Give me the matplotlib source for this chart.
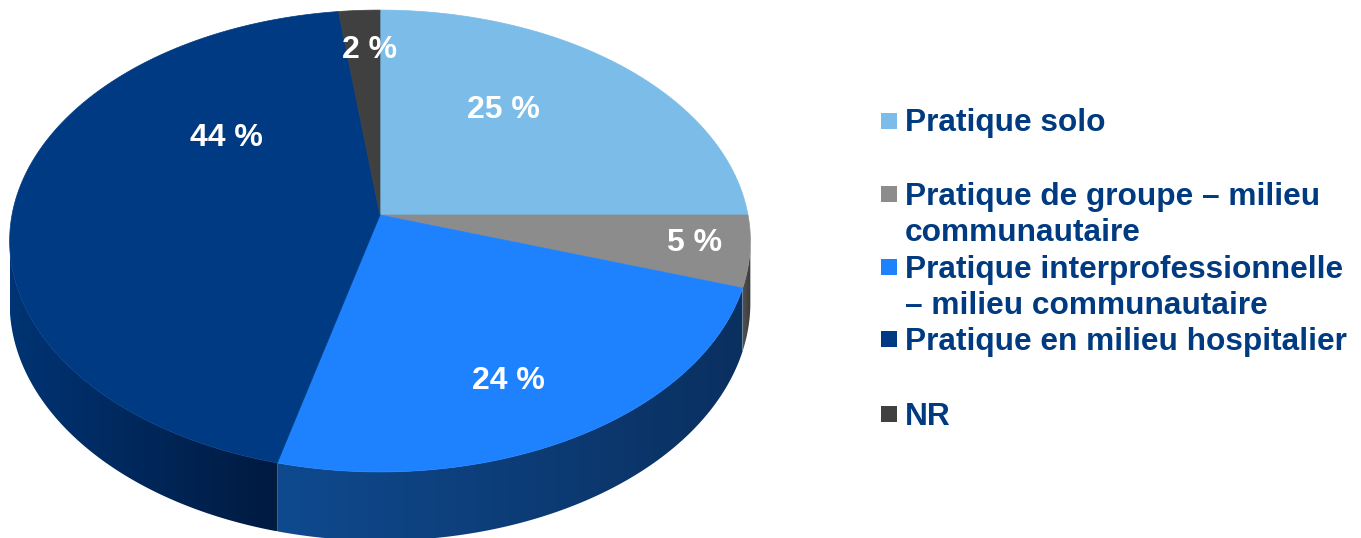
import numpy as np
import matplotlib
matplotlib.use("Agg")
import matplotlib.pyplot as plt
from matplotlib.patches import Polygon, Rectangle
from matplotlib.colors import to_rgb

# ---- data -------------------------------------------------------------
categories = [
    "Pratique solo",
    "Pratique de groupe – milieu\ncommunautaire",
    "Pratique interprofessionnelle\n– milieu communautaire",
    "Pratique en milieu hospitalier",
    "NR",
]
values = [25, 5, 24, 44, 2]
value_labels = ["25 %", "5 %", "24 %", "44 %", "2 %"]
top_colors = ["#7bbde8", "#8c8c8c", "#1e82ff", "#003a82", "#404040"]
# side colours (left / right end of the horizontal shading)
side_colors = [
    ("#4a7fa8", "#3a6a90"),
    ("#505050", "#3a3a3a"),
    ("#0f4a8f", "#0a3060"),
    ("#003474", "#001a40"),
    ("#2a2a2a", "#202020"),
]
label_pos = [(503, 110), (695, 243), (508, 381), (226, 138), (370, 50)]
legend_color = "#003a80"

# ---- projection of the pie disc --------------------------------------
CX, CY = 380.0, 215.0
A, B, K = 368.0, 228.0, 0.1126
DEPTH = 61.0


def project(theta, drop=0.0):
    u, v = np.cos(theta), np.sin(theta)
    d = 1.0 + K * v
    x = CX + A * u / d
    y = CY - B * v / d + drop / d
    return x, y


W, H = 1361, 538
fig = plt.figure(figsize=(W / 100, H / 100), dpi=100)
ax = fig.add_axes([0, 0, 1, 1])
ax.set_xlim(0, W)
ax.set_ylim(H, 0)
ax.axis("off")

fracs = np.array(values, dtype=float) / sum(values)
start = np.pi / 2
bounds = []
for f in fracs:
    end = start - 2 * np.pi * f
    bounds.append((start, end))
    start = end

# visible front range of the outer wall
lim = np.arcsin(K)
vis_a, vis_b = -lim, -np.pi + lim  # going clockwise (decreasing angle)


def norm_range(a, b):
    # express (a, b) with a > b, both in (-2pi, pi]
    return a, b


# ---- side walls -------------------------------------------------------
for (a, b), (cl, cr) in zip(bounds, side_colors):
    # bring the slice range into the window [-2pi+..]
    for shift in (0.0, -2 * np.pi, 2 * np.pi):
        a2, b2 = a + shift, b + shift
        hi = min(a2, vis_a)
        lo = max(b2, vis_b)
        if hi <= lo:
            continue
        t = np.linspace(hi, lo, 200)
        xt, yt = project(t)
        xb, yb = project(t, DEPTH)
        pts = np.column_stack([np.r_[xt, xb[::-1]], np.r_[yt, yb[::-1]]])
        poly = Polygon(pts, closed=True, facecolor="none", edgecolor="none")
        ax.add_patch(poly)
        x0, x1 = pts[:, 0].min(), pts[:, 0].max()
        y0, y1 = pts[:, 1].min(), pts[:, 1].max()
        c0, c1 = np.array(to_rgb(cl)), np.array(to_rgb(cr))
        s = np.linspace(0, 1, 256)[None, :, None]
        img = c0[None, None, :] * (1 - s) + c1[None, None, :] * s
        im = ax.imshow(img, extent=[x0, x1, y1, y0], aspect="auto",
                       interpolation="bilinear", zorder=1)
        im.set_clip_path(poly)

# ---- top faces --------------------------------------------------------
for (a, b), col in zip(bounds, top_colors):
    t = np.linspace(a, b, 300)
    xt, yt = project(t)
    pts = np.column_stack([np.r_[CX, xt], np.r_[CY, yt]])
    ax.add_patch(Polygon(pts, closed=True, facecolor=col, edgecolor=col,
                         linewidth=0.5, zorder=2))

# ---- value labels -----------------------------------------------------
font = "Liberation Sans"
for txt, (x, y) in zip(value_labels, label_pos):
    ax.text(x, y, txt, ha="center", va="center", color="white",
            fontsize=23, fontweight="bold", family=font, zorder=3)

# ---- legend -----------------------------------------------------------
legend_base = [131.5, 205, 278, 350, 425]
line_gap = 36
for name, col, base in zip(categories, top_colors, legend_base):
    ax.add_patch(Rectangle((881, base - 19), 16, 16, facecolor=col,
                           edgecolor="none", zorder=3))
    for i, line in enumerate(name.split("\n")):
        ax.text(905, base + i * line_gap, line, ha="left", va="baseline",
                color=legend_color, fontsize=22.8, fontweight="bold",
                family=font, zorder=3)

fig.savefig("out.png", dpi=100, facecolor="white")
